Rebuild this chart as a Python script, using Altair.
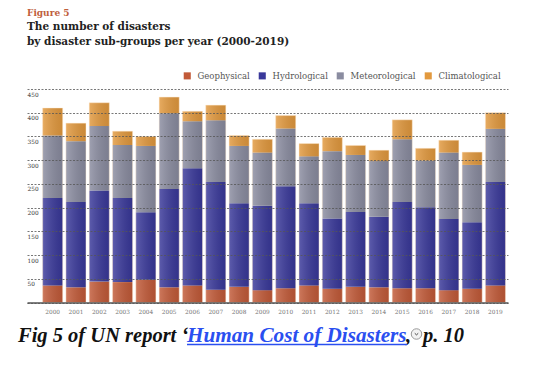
import altair as alt
import pandas as pd

years = [str(y) for y in range(2000, 2020)]
geophysical = [36, 32, 44, 43, 48, 32, 36, 27, 33, 26, 30, 36, 29, 33, 32, 30, 30, 26, 29, 36]
hydrological = [184, 180, 192, 177, 142, 207, 247, 227, 176, 178, 215, 173, 148, 158, 149, 182, 171, 150, 140, 218]
meteorological = [132, 128, 136, 112, 140, 160, 99, 130, 121, 112, 122, 99, 142, 120, 117, 132, 98, 140, 121, 112]
climatological = [58, 38, 49, 29, 20, 34, 21, 32, 22, 28, 27, 27, 29, 20, 23, 41, 26, 26, 27, 34]
groups = ["Geophysical", "Hydrological", "Meteorological", "Climatological"]
colors = ["#c25a38", "#39389a", "#8a8ca0", "#e2993e"]
y_ticks = [0, 50, 100, 150, 200, 250, 300, 350, 400, 450]

rows = []
for i, yr in enumerate(years):
    for k, vals in enumerate([geophysical, hydrological, meteorological, climatological]):
        rows.append({"year": yr, "group": groups[k], "value": vals[i], "order": k})
df = pd.DataFrame(rows)

W, H = 481, 213.5
SERIF = "DejaVu Serif"

xscale = alt.Scale(paddingInner=0.14, paddingOuter=0.39, align=0.86)
yscale = alt.Scale(domain=[0, 450], nice=False)

x_axis = alt.Axis(title=None, labelAngle=0, ticks=False, labelPadding=6,
                  labelFontSize=5.8, labelColor="#777", labelFont=SERIF,
                  domainColor="#555", domainWidth=1.5, grid=False, zindex=1)
y_axis = alt.Axis(title=None, values=y_ticks, ticks=False, domain=False,
                  labelAlign="left", labelBaseline="top", labelPadding=0,
                  labelOffset=2, labelFlush=False, labelOverlap=False,
                  labelFontSize=5.8, labelColor="#333", labelFont=SERIF,
                  labelExpr="datum.value == 0 ? '' : datum.label",
                  grid=True, gridColor="#555", gridDash=[2, 1.5],
                  gridWidth=0.8, zindex=1)

bars = alt.Chart(df).mark_bar().encode(
    x=alt.X("year:N", sort=years, scale=xscale, axis=x_axis),
    y=alt.Y("value:Q", stack="zero", scale=yscale, axis=y_axis),
    color=alt.Color("group:N", scale=alt.Scale(domain=groups, range=colors),
                    legend=alt.Legend(title=None, orient="none", legendX=156, legendY=-17.5,
                                      direction="horizontal", symbolType="square",
                                      symbolSize=50, symbolStrokeWidth=0, padding=0,
                                      labelFont=SERIF, labelFontSize=8.5, labelColor="#555",
                                      columnPadding=8, labelOffset=6)),
    order=alt.Order("order:Q"),
)

shade = alt.Gradient(
    gradient="linear",
    stops=[alt.GradientStop(color="rgba(255,255,255,0.18)", offset=0),
           alt.GradientStop(color="rgba(0,0,0,0.10)", offset=1)],
    x1=0, x2=1, y1=0, y2=0,
)
overlay = alt.Chart(df).mark_bar(fill=shade, stroke="rgba(255,235,210,0.55)", strokeWidth=0.8).encode(
    x=alt.X("year:N", sort=years, scale=xscale, axis=x_axis),
    y=alt.Y("sum(value):Q", scale=yscale, axis=y_axis),
)


def txt(s, x, y, **kw):
    return alt.Chart(pd.DataFrame({"t": [s]})).mark_text(
        align="left", baseline="alphabetic", **kw
    ).encode(text="t:N", x=alt.value(x), y=alt.value(y))


fig = txt("Figure 5", 0, -73.5, font=SERIF, fontSize=9, fontWeight="bold", color="#c0603c")
t1 = txt("The number of disasters", 0, -59.5, font=SERIF, fontSize=10.5, fontWeight="bold", color="#222")
t2 = txt("by disaster sub-groups per year (2000-2019)", 0, -44, font=SERIF, fontSize=10.5, fontWeight="bold", color="#222")

CAP = "Liberation Serif"
c1 = txt("Fig 5 of UN report \u2018", -9, 253.3, font=CAP, fontSize=20.5, fontWeight="bold", fontStyle="italic", color="#111")
c2 = txt("Human Cost of Disasters", 160, 253.3, font=CAP, fontSize=21.2, fontWeight="bold", fontStyle="italic", color="#2a4ff0")
c3 = txt(",", 379, 253.3, font=CAP, fontSize=20.5, fontWeight="bold", fontStyle="italic", color="#111")
c4 = txt("p. 10", 396, 253.3, font=CAP, fontSize=20.5, fontWeight="bold", fontStyle="italic", color="#111")
underline = alt.Chart(pd.DataFrame({"t": [0]})).mark_rule(color="#2a4ff0", strokeWidth=1.5).encode(
    x=alt.value(160), x2=alt.value(380), y=alt.value(255.5))
icon = alt.Chart(pd.DataFrame({"t": [0]})).mark_point(
    shape="circle", size=110, filled=True, fill="#f2f2f2", stroke="#999", strokeWidth=1, opacity=1
).encode(x=alt.value(389.5), y=alt.value(245))
chev = alt.Chart(pd.DataFrame({"t": [0]})).mark_point(
    shape="M-1,-0.4L0,0.5L1,-0.4", size=12, filled=False, stroke="#444", strokeWidth=1, opacity=1
).encode(x=alt.value(389.5), y=alt.value(245))

chart = alt.layer(bars, overlay, fig, t1, t2, c1, c2, c3, c4, underline, icon, chev).properties(
    width=W, height=H,
    autosize=alt.AutoSizeParams(type="none"),
    padding={"left": 19, "top": 81, "right": 15, "bottom": 50},
).configure_view(stroke=None)

chart.save("out.html", embed_options={"renderer": "svg", "actions": False})
